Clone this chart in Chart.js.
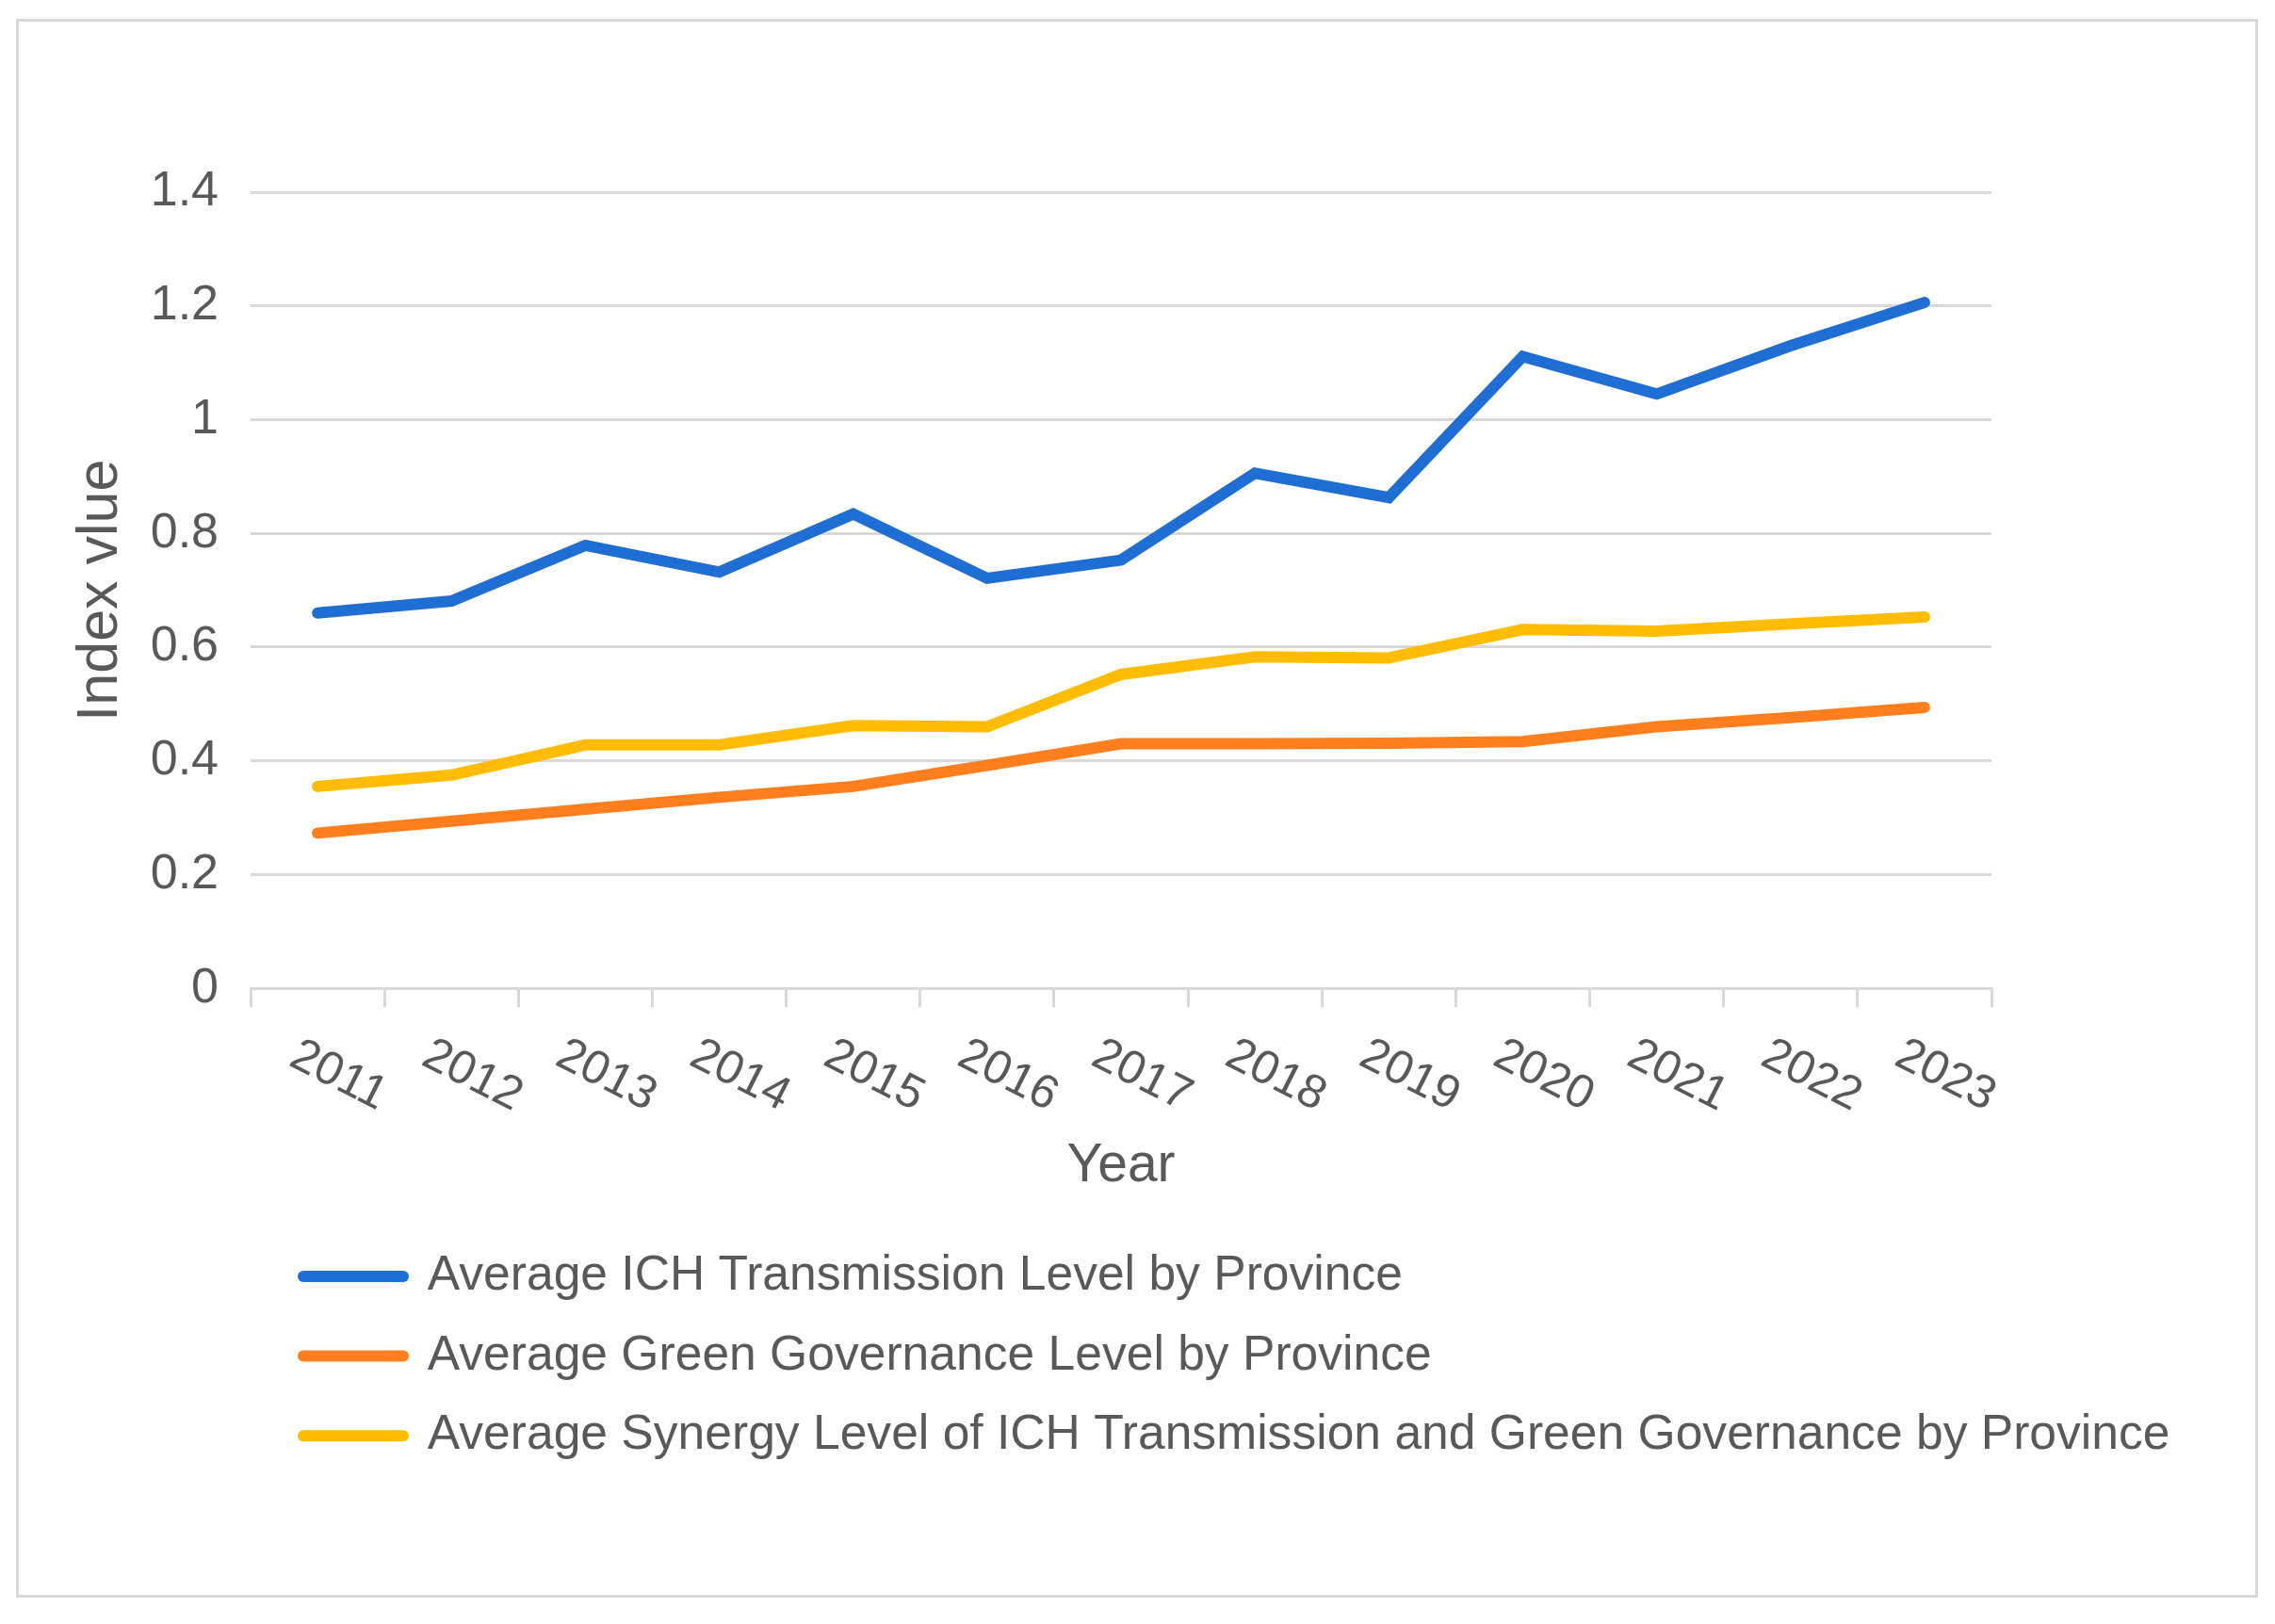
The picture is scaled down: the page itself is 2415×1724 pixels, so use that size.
<!DOCTYPE html>
<html>
<head>
<meta charset="utf-8">
<script src="https://cdn.jsdelivr.net/npm/chart.js@4.4.1/dist/chart.umd.min.js"></script>
<style>
  html, body { margin: 0; padding: 0; background: #ffffff; }
  #wrap { position: relative; width: 2415px; height: 1724px; }
</style>
</head>
<body>
<div id="wrap"><canvas id="c"></canvas></div>
<script>
const years = ['2011','2012','2013','2014','2015','2016','2017','2018','2019','2020','2021','2022','2023'];
const ichLevel = [0.660, 0.681, 0.779, 0.732, 0.834, 0.721, 0.753, 0.906, 0.863, 1.111, 1.045, 1.130, 1.206];
const greenLevel = [0.273, 0.294, 0.315, 0.336, 0.355, 0.392, 0.430, 0.430, 0.431, 0.434, 0.460, 0.476, 0.494];
const synergyLevel = [0.355, 0.375, 0.428, 0.428, 0.462, 0.460, 0.552, 0.583, 0.581, 0.631, 0.628, 0.641, 0.653];
const yTickLabels = ['0', '0.2', '0.4', '0.6', '0.8', '1', '1.2', '1.4'];
const seriesNames = [
  'Average ICH Transmission Level by Province',
  'Average Green Governance Level by Province',
  'Average Synergy Level of ICH Transmission and Green Governance by Province'
];

const FONT = "'Liberation Sans', Arial, Helvetica, sans-serif";
const TEXT = '#595959';
const GRID = '#d9d9d9';
const COLORS = ['#1F6ED4', '#FF7F1F', '#FFBC00'];

const framePlugin = {
  id: 'frame',
  beforeDraw(chart) {
    const ctx = chart.ctx;
    ctx.save();
    ctx.fillStyle = '#ffffff';
    ctx.fillRect(0, 0, chart.width, chart.height);
    ctx.strokeStyle = GRID;
    ctx.lineWidth = 3;
    ctx.strokeRect(18.5, 21.5, 2377, 1673);
    ctx.restore();
  }
};

const legendShift = {
  id: 'legendShift',
  afterLayout(chart) {
    const lg = chart.legend;
    if (lg) { lg.left += 271; lg.right += 271; }
  }
};

const xLabels = {
  id: 'xLabels',
  afterDraw(chart) {
    const xs = chart.scales.x;
    const ctx = chart.ctx;
    ctx.save();
    ctx.font = '50px ' + FONT;
    ctx.fillStyle = TEXT;
    ctx.textAlign = 'center';
    ctx.textBaseline = 'middle';
    xs.ticks.forEach((t, i) => {
      const px = xs.getPixelForTick(i);
      ctx.save();
      ctx.translate(px + 22, xs.top + 93);
      ctx.rotate(27 * Math.PI / 180);
      ctx.fillText(xs.getLabelForValue(t.value), 0, 0);
      ctx.restore();
    });
    ctx.restore();
  }
};

const mk = (label, data, color) => ({
  label, data,
  borderColor: color,
  backgroundColor: color,
  borderWidth: 12,
  pointRadius: 0,
  pointHoverRadius: 0,
  tension: 0,
  borderCapStyle: 'round',
  borderJoinStyle: 'miter',
  fill: false
});

new Chart(document.getElementById('c'), {
  type: 'line',
  data: {
    labels: years,
    datasets: [
      mk(seriesNames[0], ichLevel, COLORS[0]),
      mk(seriesNames[1], greenLevel, COLORS[1]),
      mk(seriesNames[2], synergyLevel, COLORS[2])
    ]
  },
  options: {
    responsive: true,
    maintainAspectRatio: false,
    animation: false,
    devicePixelRatio: 1,
    layout: { padding: { left: 18, right: 301, top: 204, bottom: 164 } },
    plugins: {
      tooltip: { enabled: false },
      legend: {
        display: true,
        position: 'bottom',
        align: 'start',
        labels: {
          font: { family: FONT, size: 51.6 },
          color: TEXT,
          padding: 33,
          usePointStyle: true,
          pointStyle: 'line',
          pointStyleWidth: 106,
          generateLabels(chart) {
            const items = Chart.defaults.plugins.legend.labels.generateLabels(chart);
            return items.map(it => {
              const ds = chart.data.datasets[it.datasetIndex];
              it.strokeStyle = ds.borderColor;
              it.fillStyle = ds.borderColor;
              it.lineWidth = 12;
              it.lineCap = 'round';
              it.pointStyle = 'line';
              return it;
            });
          }
        }
      }
    },
    scales: {
      x: {
        type: 'category',
        offset: true,
        grid: {
          display: true,
          drawOnChartArea: false,
          drawTicks: true,
          tickLength: 20,
          offset: true,
          color: GRID,
          lineWidth: 3
        },
        border: { display: true, color: GRID, width: 3 },
        ticks: { display: false },
        title: {
          display: true,
          text: 'Year',
          color: TEXT,
          font: { family: FONT, size: 57 },
          padding: { top: 0, bottom: 24 }
        },
        afterFit(scale) { scale.height = 247; }
      },
      y: {
        min: 0,
        max: 1.4,
        grid: { color: GRID, lineWidth: 3, drawTicks: false },
        border: { display: false },
        ticks: {
          stepSize: 0.2,
          padding: 34,
          color: TEXT,
          font: { family: FONT, size: 52 },
          callback: (value, index) => yTickLabels[index]
        },
        title: {
          display: true,
          text: 'Index vlue',
          color: TEXT,
          font: { family: FONT, size: 61 },
          padding: { top: 53, bottom: 0 }
        },
        afterFit(scale) { scale.width = 248; }
      }
    }
  },
  plugins: [framePlugin, legendShift, xLabels]
});
</script>
</body>
</html>
